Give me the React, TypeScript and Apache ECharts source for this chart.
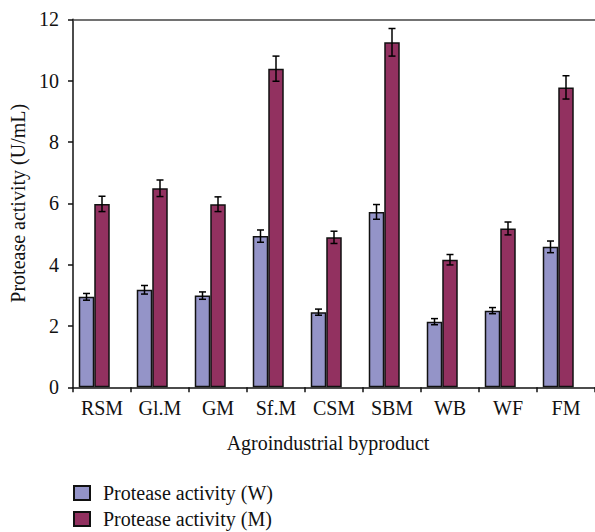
import React, { useEffect, useRef } from "react";
import * as echarts from "echarts";

const categories = ["RSM", "Gl.M", "GM", "Sf.M", "CSM", "SBM", "WB", "WF", "FM"];
const wildValues = [2.95, 3.18, 2.99, 4.93, 2.45, 5.72, 2.14, 2.5, 4.58];
const wildErrors = [0.11, 0.14, 0.12, 0.2, 0.1, 0.24, 0.1, 0.1, 0.19];
const mutantValues = [5.98, 6.49, 5.97, 10.39, 4.89, 11.25, 4.16, 5.18, 9.78];
const mutantErrors = [0.25, 0.27, 0.24, 0.41, 0.2, 0.45, 0.17, 0.21, 0.38];
const seriesNames = ["Protease activity (W)", "Protease activity (M)"];
const yTicks = { min: 0, max: 12, interval: 2 };

const FONT = "'Liberation Serif', 'Times New Roman', serif";
const FS = 20;
const BAR_W = 15.5;

function errorSeries(values: number[], errors: number[], offset: number) {
  return {
    type: "custom",
    silent: true,
    z: 10,
    data: values.map((v, i) => [i, v, errors[i]]),
    encode: { x: 0, y: 1 },
    renderItem: (params: any, api: any) => {
      const i = api.value(0);
      const v = api.value(1);
      const e = api.value(2);
      const top = api.coord([i, v + e]);
      const bot = api.coord([i, v - e]);
      const x = top[0] + offset;
      const cap = 3.5;
      const style = { stroke: "#000", lineWidth: 1.5 };
      return {
        type: "group",
        children: [
          { type: "line", shape: { x1: x, y1: top[1], x2: x, y2: bot[1] }, style },
          { type: "line", shape: { x1: x - cap, y1: top[1], x2: x + cap, y2: top[1] }, style },
          { type: "line", shape: { x1: x - cap, y1: bot[1], x2: x + cap, y2: bot[1] }, style },
        ],
      };
    },
  };
}

function legendFor(name: string, top: number) {
  return {
    data: [name],
    orient: "horizontal",
    left: 68,
    top,
    itemWidth: 16,
    itemHeight: 14,
    itemGap: 8,
    icon: "rect",
    selectedMode: false,
    textStyle: { fontFamily: FONT, fontSize: FS, color: "#111", padding: [0, 0, 0, 8] },
  };
}

export default function App() {
  const ref = useRef<HTMLDivElement>(null);
  useEffect(() => {
    if (!ref.current) return;
    const chart = echarts.init(ref.current, null, { renderer: "svg" });
    chart.setOption({
      animation: false,
      textStyle: { fontFamily: FONT },
      grid: { left: 73, top: 19.3, width: 525, height: 368, containLabel: false },
      legend: [legendFor(seriesNames[0], 478), legendFor(seriesNames[1], 504)],
      xAxis: [
        {
          type: "category",
          data: categories,
          axisLine: { lineStyle: { color: "#111", width: 1.5 } },
          axisTick: { show: true, length: 5, lineStyle: { color: "#111", width: 1.5 } },
          axisLabel: { fontFamily: FONT, fontSize: FS, color: "#111", margin: 11 },
          name: "Agroindustrial byproduct",
          nameLocation: "middle",
          nameGap: 46,
          nameTextStyle: { fontFamily: FONT, fontSize: FS, color: "#111", padding: [0, 12, 0, 0] },
        },
        {
          type: "category",
          position: "top",
          data: categories,
          axisLine: { show: true, lineStyle: { color: "#444", width: 1.5 } },
          axisTick: { show: false },
          axisLabel: { show: false },
        },
      ],
      yAxis: {
        type: "value",
        min: yTicks.min,
        max: yTicks.max,
        interval: yTicks.interval,
        axisLine: { show: true, lineStyle: { color: "#111", width: 1.5 } },
        axisTick: { show: true, length: 5, lineStyle: { color: "#111", width: 1.5 } },
        splitLine: { show: false },
        axisLabel: { fontFamily: FONT, fontSize: FS, color: "#111", margin: 14 },
        name: "Protease activity (U/mL)",
        nameLocation: "middle",
        nameGap: 45,
        nameTextStyle: { fontFamily: FONT, fontSize: FS, color: "#111" },
      },
      series: [
        {
          name: seriesNames[0],
          type: "bar",
          data: wildValues,
          barWidth: BAR_W,
          barGap: 0,
          itemStyle: { color: "#9494c8", borderColor: "#111", borderWidth: 1.5 },
        },
        {
          name: seriesNames[1],
          type: "bar",
          data: mutantValues,
          barWidth: BAR_W,
          barGap: 0,
          itemStyle: { color: "#923160", borderColor: "#111", borderWidth: 1.5 },
        },
        {
          name: "spacer",
          type: "bar",
          data: categories.map(() => "-"),
          barWidth: BAR_W,
          barGap: 0,
          silent: true,
        },
        errorSeries(wildValues, wildErrors, -BAR_W),
        errorSeries(mutantValues, mutantErrors, 0),
      ],
    });
    return () => chart.dispose();
  }, []);
  return (
    <div
      ref={ref}
      style={{ position: "absolute", left: 0, top: 0, width: 595, height: 532 }}
    />
  );
}
